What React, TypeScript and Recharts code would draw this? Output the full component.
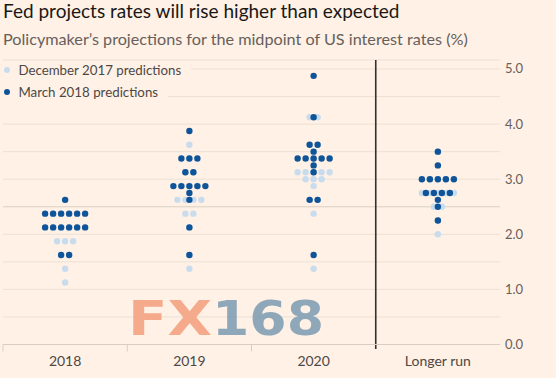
import { ScatterChart, Scatter, XAxis, YAxis, CartesianGrid, ReferenceLine } from 'recharts';

const columns = ['2018', '2019', '2020', 'Longer run'];
const rateTicks = [0, 0.5, 1, 1.5, 2, 2.5, 3, 3.5, 4, 4.5, 5];
const columnTicks = [0, 0.5, 1, 1.5, 2, 2.5, 3.5];

// [rate level, dots at that level] as drawn in each column
const dec2017In2018 = [[2.625, 1], [2.375, 4], [2.125, 4], [1.875, 3], [1.625, 2], [1.375, 1], [1.125, 1]];
const dec2017In2019 = [[3.625, 1], [3.375, 1], [3.125, 2], [2.875, 3], [2.625, 4], [2.375, 2], [2.125, 1], [1.625, 1], [1.375, 1]];
const dec2017In2020 = [[4.125, 2], [3.375, 1], [3.125, 5], [3.0, 3], [2.875, 1], [2.625, 2], [2.375, 1], [1.375, 1]];
const dec2017Longer = [[3.5, 1], [3.0, 3], [2.75, 5], [2.5, 2], [2.25, 1], [2.0, 1]];

const mar2018In2018 = [[2.625, 1], [2.375, 6], [2.125, 6], [1.625, 2]];
const mar2018In2019 = [[3.875, 1], [3.375, 3], [3.125, 2], [2.875, 5], [2.75, 1], [2.625, 1], [2.125, 1], [1.625, 1]];
const mar2018In2020 = [[4.875, 1], [4.125, 1], [3.625, 2], [3.5, 1], [3.375, 5], [3.25, 1], [3.125, 1], [2.625, 2], [1.625, 1]];
const mar2018Longer = [[3.5, 1], [3.25, 1], [3.0, 5], [2.75, 4], [2.625, 1], [2.5, 1], [2.25, 1]];

const W = 556;
const H = 378;
const PLOT_W = 497;
const DOT_GAP = 8 / (PLOT_W / columns.length); // 8px between dots, in x units

const DARK = '#0f5499';
const LIGHT = '#c9dcee';
const BG = '#fff1e5';
const FONT = 'Lato, "Noto Sans", sans-serif';

function spread(cols: number[][][]) {
  const pts: { x: number; y: number }[] = [];
  cols.forEach((rows, c) => {
    rows.forEach(([rate, n]) => {
      for (let i = 0; i < n; i++) {
        pts.push({ x: c + 0.5 + (i - (n - 1) / 2) * DOT_GAP, y: rate });
      }
    });
  });
  return pts;
}

const decPoints = spread([dec2017In2018, dec2017In2019, dec2017In2020, dec2017Longer]);
const marPoints = spread([mar2018In2018, mar2018In2019, mar2018In2020, mar2018Longer]);

const Dot = (props: any) => <circle cx={props.cx} cy={props.cy} r={3.2} fill={props.fill} />;

const RateTick = (props: any) => {
  const { x, y, payload } = props;
  if (!Number.isInteger(payload.value)) return <g />;
  return (
    <text x={x} y={y} dy={4.5} textAnchor="start" fill="#66605c" fontSize={13} fontFamily={FONT}>
      {payload.value.toFixed(1)}
    </text>
  );
};

const ColumnTick = (props: any) => {
  const { x, y, payload } = props;
  const v = payload.value;
  if (Number.isInteger(v)) {
    return <line x1={x} y1={y} x2={x} y2={y + 7} stroke="#d9cdc2" />;
  }
  return (
    <text x={x} y={y + 21.5} textAnchor="middle" fill="#4d4845" fontSize={14} fontFamily={FONT}>
      {columns[Math.floor(v)]}
    </text>
  );
};

const legendItems = [
  { label: 'December 2017 predictions', color: LIGHT },
  { label: 'March 2018 predictions', color: DARK }
];

export default function App() {
  return (
    <div style={{ position: 'absolute', left: 0, top: 0, width: W, height: H, background: BG, overflow: 'hidden' }}>
      <div style={{ position: 'absolute', left: 3, top: -1, fontFamily: FONT, fontSize: 19, color: '#1a1817', lineHeight: '24px' }}>
        Fed projects rates will rise higher than expected
      </div>
      <div style={{ position: 'absolute', left: 3, top: 29, fontFamily: FONT, fontSize: 16.2, color: '#66605c', lineHeight: '20px' }}>
        Policymaker’s projections for the midpoint of US interest rates (%)
      </div>
      <ScatterChart width={W} height={H} margin={{ top: 60, right: 0, left: 3, bottom: 3.5 }}>
        <CartesianGrid horizontal vertical={false} stroke="#ebe0d6" />
        <XAxis
          type="number"
          dataKey="x"
          domain={[0, 4]}
          ticks={columnTicks}
          interval={0}
          height={30}
          tickSize={0}
          tickMargin={0}
          tickLine={false}
          axisLine={{ stroke: '#d9cdc2' }}
          tick={<ColumnTick />}
        />
        <YAxis
          type="number"
          dataKey="y"
          orientation="right"
          domain={[0, 5.163]}
          ticks={rateTicks}
          interval={0}
          width={56}
          tickSize={3}
          tickMargin={2}
          tickLine={false}
          axisLine={false}
          tick={<RateTick />}
        />
        <ReferenceLine y={2.5} stroke="#e2d5c9" />
        <ReferenceLine
          segment={[{ x: 3, y: -0.08 }, { x: 3, y: 5.163 }]}
          stroke="#33302e"
          strokeWidth={1.6}
          ifOverflow="visible"
        />
        <Scatter data={decPoints} fill={LIGHT} shape={<Dot />} isAnimationActive={false} />
        <Scatter data={marPoints} fill={DARK} shape={<Dot />} isAnimationActive={false} />
      </ScatterChart>
      <div style={{ position: 'absolute', left: 3, top: 61, fontFamily: FONT, fontSize: 13.3, color: '#4d4845' }}>
        {legendItems.map((item) => (
          <div key={item.label} style={{ display: 'flex', alignItems: 'center', height: 18, marginBottom: 4, background: BG, paddingRight: 10, width: 'fit-content' }}>
            <span style={{ width: 6.4, height: 6.4, borderRadius: '50%', background: item.color, marginLeft: 1, marginRight: 8 }} />
            <span>{item.label}</span>
          </div>
        ))}
      </div>
      <svg width={W} height={H} style={{ position: 'absolute', left: 0, top: 0, pointerEvents: 'none' }}>
        <text x={128} y={335} fontFamily='"DejaVu Sans", sans-serif' fontWeight="bold" fontSize={48} fill="#f4a27f" opacity={0.88} textLength={84} lengthAdjust="spacingAndGlyphs">
          FX
        </text>
        <text x={212} y={335} fontFamily='"DejaVu Sans", sans-serif' fontWeight="bold" fontSize={48} fill="#7f9db3" opacity={0.88} textLength={112} lengthAdjust="spacingAndGlyphs">
          168
        </text>
      </svg>
    </div>
  );
}
